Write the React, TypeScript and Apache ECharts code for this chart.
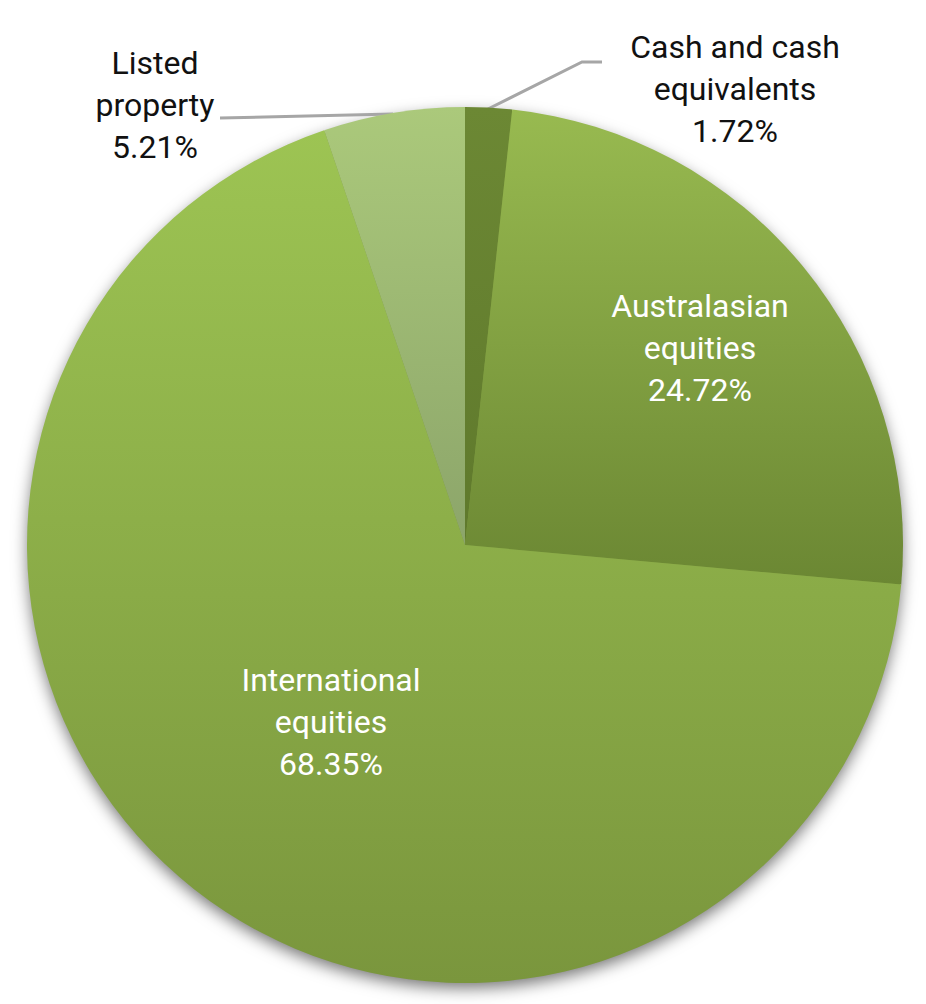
import React, { useEffect, useRef } from "react";
import * as echarts from "echarts";

// Asset allocation shares (%)
const categories = [
  "Cash and cash\nequivalents",
  "Australasian\nequities",
  "International\nequities",
  "Listed\nproperty",
];
const shares = [1.72, 24.72, 68.35, 5.21];

// Per-slice vertical gradients (top -> bottom)
const topColors = ["#6c8834", "#98ba50", "#9dc453", "#abc97b"];
const bottomColors = ["#5f792c", "#6b8733", "#7a963d", "#8ca56a"];

// Label anchor points (block centres) and leader lines
const labelAnchors: [number, number][] = [
  [735, 89],
  [700, 348],
  [331, 722],
  [155, 105],
];
const leaderLines: (number[][] | null)[] = [
  [
    [488, 109],
    [582, 62],
    [602, 62],
  ],
  null,
  null,
  [
    [393, 114],
    [307, 116],
    [220, 118],
  ],
];
const insideLabel = [false, true, true, false];

const CX = 465;
const CY = 545;
const R = 438;

export default function App() {
  const ref = useRef<HTMLDivElement>(null);

  useEffect(() => {
    if (!ref.current) return;
    const chart = echarts.init(ref.current, undefined, { renderer: "svg" });

    const data = categories.map((name, i) => ({
      name,
      value: shares[i],
      itemStyle: {
        color: {
          type: "linear",
          x: 0,
          y: 0,
          x2: 0,
          y2: 1,
          colorStops: [
            { offset: 0, color: topColors[i] },
            { offset: 1, color: bottomColors[i] },
          ],
        },
      },
      label: insideLabel[i] ? { color: "#ffffff" } : { color: "#111111" },
      labelLine: { show: !insideLabel[i] },
    }));

    chart.setOption({
      animation: false,
      backgroundColor: "#ffffff",
      series: [
        {
          // soft drop shadow beneath the whole pie
          type: "pie",
          silent: true,
          z: 1,
          center: [CX, CY],
          radius: R - 1,
          startAngle: 90,
          label: { show: false },
          labelLine: { show: false },
          itemStyle: {
            color: "#7a963d",
            borderWidth: 0,
            shadowBlur: 16,
            shadowOffsetY: 6,
            shadowColor: "rgba(0,0,0,0.55)",
          },
          data: [{ value: 1, name: "" }],
        },
        {
          type: "pie",
          z: 2,
          center: [CX, CY],
          radius: R,
          startAngle: 90,
          clockwise: true,
          avoidLabelOverlap: false,
          itemStyle: { borderWidth: 0 },
          label: {
            show: true,
            position: "outside",
            fontFamily: "Roboto",
            fontSize: 32,
            lineHeight: 42,
            align: "center",
            formatter: (p: any) => `${p.name}\n${Number(p.value).toFixed(2)}%`,
          },
          labelLine: {
            show: true,
            lineStyle: { color: "#a6a6a6", width: 3 },
          },
          labelLayout: (params: any) => {
            const i = params.dataIndex;
            const [x, y] = labelAnchors[i];
            const out: any = { x, y, align: "center", verticalAlign: "middle" };
            if (leaderLines[i]) out.labelLinePoints = leaderLines[i];
            return out;
          },
          data,
        },
      ],
    });

    return () => chart.dispose();
  }, []);

  return (
    <div
      ref={ref}
      style={{ position: "absolute", left: 0, top: 0, width: 926, height: 1004 }}
    />
  );
}
